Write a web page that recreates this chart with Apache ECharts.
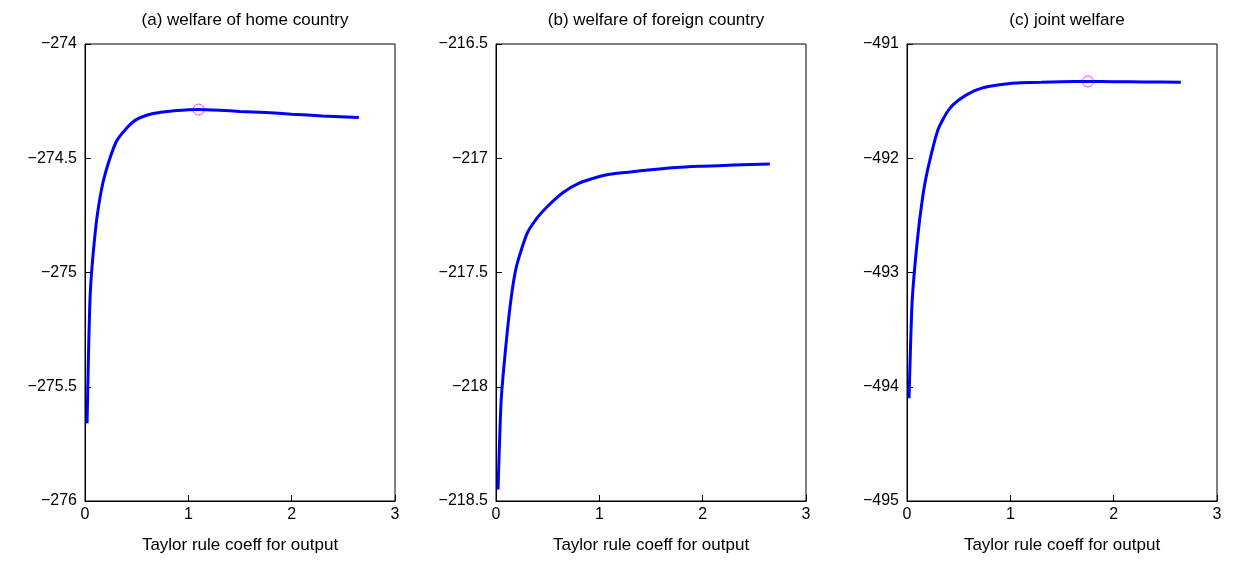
<!DOCTYPE html>
<html>
<head>
<meta charset="utf-8">
<script src="https://cdn.jsdelivr.net/npm/echarts@6/dist/echarts.min.js"></script>
<style>html,body{margin:0;padding:0;background:#fff}#chart{width:1235px;height:565px}</style>
</head>
<body>
<div id="chart"></div>
<script>
var xs = [0.02, 0.05, 0.1, 0.15, 0.2, 0.3, 0.4, 0.5, 0.65, 0.8, 1.0, 1.1, 1.3, 1.5, 1.75, 2.0, 2.3, 2.65];
var homeW = [-275.66, -275.1, -274.82, -274.66, -274.56, -274.43, -274.37, -274.33, -274.305, -274.295, -274.288, -274.287, -274.29, -274.295, -274.30, -274.307, -274.315, -274.322];
var foreignW = [-218.45, -218.06, -217.8, -217.6, -217.47, -217.33, -217.26, -217.21, -217.15, -217.11, -217.08, -217.07, -217.06, -217.05, -217.04, -217.035, -217.03, -217.025];
var jointW = [-494.1, -493.25, -492.72, -492.35, -492.1, -491.75, -491.58, -491.49, -491.41, -491.37, -491.345, -491.34, -491.335, -491.33, -491.328, -491.33, -491.332, -491.335];
var titles = ['(a) welfare of home country', '(b) welfare of foreign country', '(c) joint welfare'];
var yRanges = [[-276, -274, 0.5], [-218.5, -216.5, 0.5], [-495, -491, 1]];
var optima = [[1.1, -274.287], null, [1.75, -491.328]];
var lefts = [85, 496, 907];

var myChart = echarts.init(document.getElementById('chart'));
var font = {fontFamily: 'Liberation Sans, Arial', fontSize: 16, color: '#000'};
var grids = [], xAxes = [], yAxes = [], series = [], tt = [];
[homeW, foreignW, jointW].forEach(function (ys, i) {
	grids.push({left: lefts[i], top: 44, width: 310, height: 457, show: true, borderColor: '#000', borderWidth: 1});
	tt.push({text: titles[i], left: lefts[i] + 155, top: 7, textAlign: 'center',
		textStyle: {fontFamily: 'Liberation Sans, Arial', fontSize: 17, fontWeight: 'normal', color: '#000'}});
	xAxes.push({type: 'value', gridIndex: i, min: 0, max: 3, interval: 1,
		name: 'Taylor rule coeff for output', nameLocation: 'middle', nameGap: 36, nameTextStyle: {fontFamily: 'Liberation Sans, Arial', fontSize: 17, color: '#000'},
		axisLine: {lineStyle: {color: '#000'}}, axisTick: {inside: true, length: 6, lineStyle: {color: '#000'}},
		axisLabel: Object.assign({margin: 6}, font), splitLine: {show: false}});
	var r = yRanges[i];
	yAxes.push({type: 'value', gridIndex: i, min: r[0], max: r[1], interval: r[2],
		axisLine: {show: true, lineStyle: {color: '#000'}}, axisTick: {show: true, inside: true, length: 6, lineStyle: {color: '#000'}},
		axisLabel: Object.assign({margin: 8, formatter: function (v) { return String(v).replace('-', '\u2212'); }}, font),
		splitLine: {show: false}});
	series.push({type: 'line', xAxisIndex: i, yAxisIndex: i, smooth: 0.2, showSymbol: false,
		lineStyle: {color: '#0000ff', width: 3}, data: xs.map(function (x, k) { return [x, ys[k]]; })});
	if (optima[i]) {
		series.push({type: 'scatter', xAxisIndex: i, yAxisIndex: i, symbol: 'circle', symbolSize: 11,
			itemStyle: {color: 'transparent', borderColor: '#ff00ff', borderWidth: 1}, data: [optima[i]]});
	}
});
myChart.setOption({animation: false, title: tt, grid: grids, xAxis: xAxes, yAxis: yAxes, series: series});
</script>
</body>
</html>
